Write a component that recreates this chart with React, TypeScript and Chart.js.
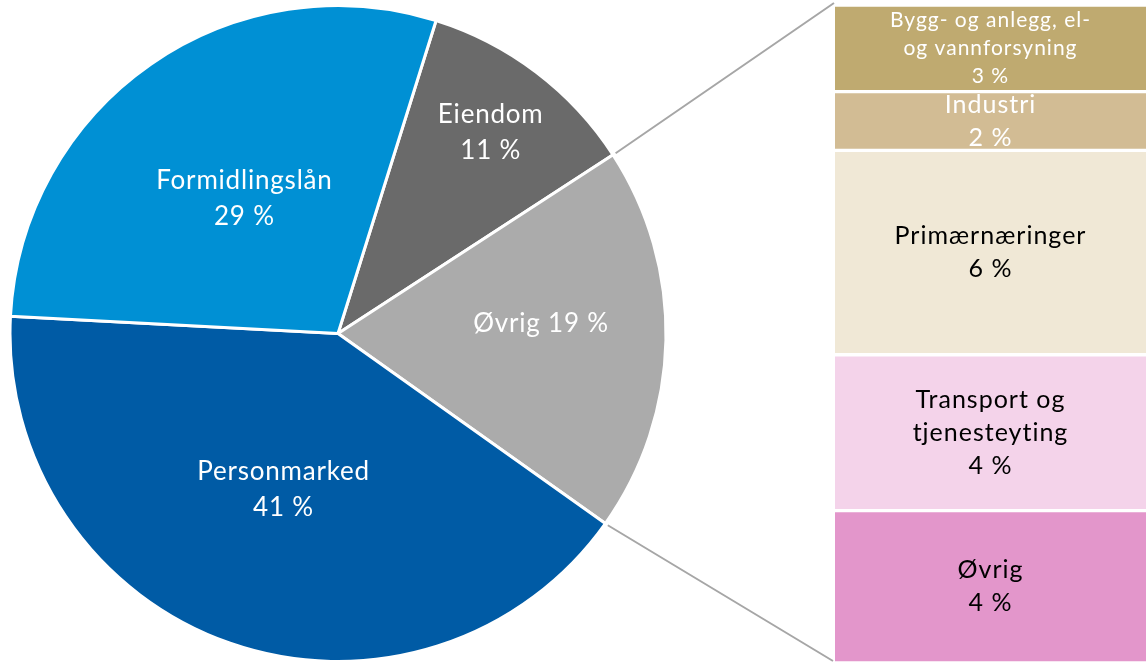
import React, { useEffect, useRef } from "react";
import { Chart, registerables } from "chart.js";
Chart.register(...registerables);

const FONT = "Lato, 'Open Sans', sans-serif";

// Pie data (clockwise from the Eiendom slice)
const pieLabels = ["Eiendom", "Øvrig", "Personmarked", "Formidlingslån"];
const pieValues = [11, 19, 41, 29];
const pieColors = ["#6A6A6A", "#ABABAB", "#005BA5", "#0090D4"];
const pieLabelLines = [["Eiendom", "11 %"], ["Øvrig 19 %"], ["Personmarked", "41 %"], ["Formidlingslån", "29 %"]];

// Breakdown of "Øvrig" (bottom to top)
const barLabels = ["Øvrig", "Transport og tjenesteyting", "Primærnæringer", "Industri", "Bygg- og anlegg, el- og vannforsyning"];
const barValues = [4.4, 4.5, 5.9, 1.7, 2.5];
const barColors = ["#E396CB", "#F4D3EA", "#F0E8D6", "#D2BC94", "#BFAA70"];
const barTextColors = ["#000000", "#000000", "#000000", "#FFFFFF", "#FFFFFF"];
const barLabelLines = [
  ["Øvrig", "4 %"],
  ["Transport og", "tjenesteyting", "4 %"],
  ["Primærnæringer", "6 %"],
  ["Industri", "2 %"],
  ["Bygg- og anlegg, el-", "og vannforsyning", "3 %"],
];

// label styling
const labelRadiusFactor = [0.77, 0.62, 0.505, 0.5];
const labelAngleShift = [0, -0.07, 0, 0];
const barFontSize = [25, 25, 25, 25, 21];
const barLineHeight = [33, 33, 33, 33, 28];

export default function App() {
  const pieRef = useRef<HTMLCanvasElement | null>(null);
  const barRef = useRef<HTMLCanvasElement | null>(null);

  useEffect(() => {
    document.body.style.margin = "0";
    const BAR_LEFT = 835;

    const barChart = new Chart(barRef.current!, {
      type: "bar",
      data: {
        labels: ["Øvrig"],
        datasets: barValues.map((v, i) => ({
          label: barLabels[i],
          data: [v],
          backgroundColor: barColors[i],
          borderColor: "#FFFFFF",
          borderWidth: { top: 2, bottom: 2, left: 0, right: 0 },
          borderSkipped: false,
          barPercentage: 1,
          categoryPercentage: 1,
        })),
      },
      options: {
        animation: false,
        responsive: false,
        maintainAspectRatio: false,
        layout: { padding: { top: 5, bottom: 0, left: 0, right: 0 } },
        plugins: { legend: { display: false }, tooltip: { enabled: false } },
        scales: {
          x: { stacked: true, display: false },
          y: { stacked: true, display: false, min: 0, max: barValues.reduce((a, b) => a + b, 0) },
        },
      },
      plugins: [
        {
          id: "barText",
          afterDatasetsDraw(chart: any) {
            const ctx = chart.ctx;
            chart.data.datasets.forEach((_: any, i: number) => {
              const el: any = chart.getDatasetMeta(i).data[0];
              const { x, y, base, width } = el.getProps(["x", "y", "base", "width"], true);
              const top = Math.min(y, base) + 2;
              const bottom = Math.max(y, base) - 2;
              const h = bottom - top;
              const lines = barLabelLines[i];
              const lh = barLineHeight[i];
              ctx.save();
              ctx.beginPath();
              ctx.rect(x - width / 2, top, width, h);
              ctx.clip();
              ctx.font = `${barFontSize[i]}px ${FONT}`;
              (ctx as any).letterSpacing = "1px";
              ctx.fillStyle = barTextColors[i];
              ctx.textAlign = "center";
              ctx.textBaseline = "middle";
              const cy = (top + bottom) / 2;
              lines.forEach((t, k) => {
                ctx.fillText(t, x, cy + (k - (lines.length - 1) / 2) * lh);
              });
              ctx.restore();
            });
          },
        },
      ],
    });

    const pieChart = new Chart(pieRef.current!, {
      type: "pie",
      data: {
        labels: pieLabels,
        datasets: [
          {
            data: pieValues,
            backgroundColor: pieColors,
            borderColor: "#FFFFFF",
            borderWidth: 3,
          },
        ],
      },
      options: {
        animation: false,
        responsive: false,
        maintainAspectRatio: false,
        rotation: 17.4,
        layout: { padding: { left: 7, right: 1146 - 669, top: 4, bottom: 0 } },
        plugins: { legend: { display: false }, tooltip: { enabled: false } },
      },
      plugins: [
        {
          id: "pieText",
          afterDatasetsDraw(chart: any) {
            const ctx = chart.ctx;
            const meta = chart.getDatasetMeta(0);
            meta.data.forEach((arc: any, i: number) => {
              const { x, y, startAngle, endAngle, outerRadius } = arc.getProps(
                ["x", "y", "startAngle", "endAngle", "outerRadius"],
                true
              );
              const mid = (startAngle + endAngle) / 2 + labelAngleShift[i];
              const r = outerRadius * labelRadiusFactor[i];
              const lx = x + Math.cos(mid) * r;
              const ly = y + Math.sin(mid) * r;
              const lines = pieLabelLines[i];
              ctx.save();
              ctx.font = `26px ${FONT}`;
              (ctx as any).letterSpacing = "0.8px";
              ctx.fillStyle = "#FFFFFF";
              ctx.textAlign = "center";
              ctx.textBaseline = "middle";
              lines.forEach((t, k) => {
                ctx.fillText(t, lx, ly + (k - (lines.length - 1) / 2) * 36);
              });
              ctx.restore();
            });

            // connector lines from the "Øvrig" slice to the breakdown bar
            const arc: any = meta.data[1];
            const { x, y, startAngle, endAngle, outerRadius } = arc.getProps(
              ["x", "y", "startAngle", "endAngle", "outerRadius"],
              true
            );
            const ca = barChart.chartArea;
            const rr = outerRadius + 3;
            ctx.save();
            ctx.strokeStyle = "#A6A6A6";
            ctx.lineWidth = 2;
            ctx.beginPath();
            ctx.moveTo(x + Math.cos(startAngle) * rr, y + Math.sin(startAngle) * rr);
            ctx.lineTo(BAR_LEFT + ca.left - 1, ca.top - 2);
            ctx.moveTo(x + Math.cos(endAngle) * rr, y + Math.sin(endAngle) * rr);
            ctx.lineTo(BAR_LEFT + ca.left - 2, ca.bottom - 2);
            ctx.stroke();
            ctx.restore();
          },
        },
      ],
    });

    return () => {
      pieChart.destroy();
      barChart.destroy();
    };
  }, []);

  return (
    <div style={{ position: "relative", width: 1146, height: 663, background: "#FFFFFF", overflow: "hidden" }}>
      <canvas ref={pieRef} width={1146} height={663} style={{ position: "absolute", left: 0, top: 0 }} />
      <canvas ref={barRef} width={311} height={663} style={{ position: "absolute", left: 835, top: 0 }} />
    </div>
  );
}
